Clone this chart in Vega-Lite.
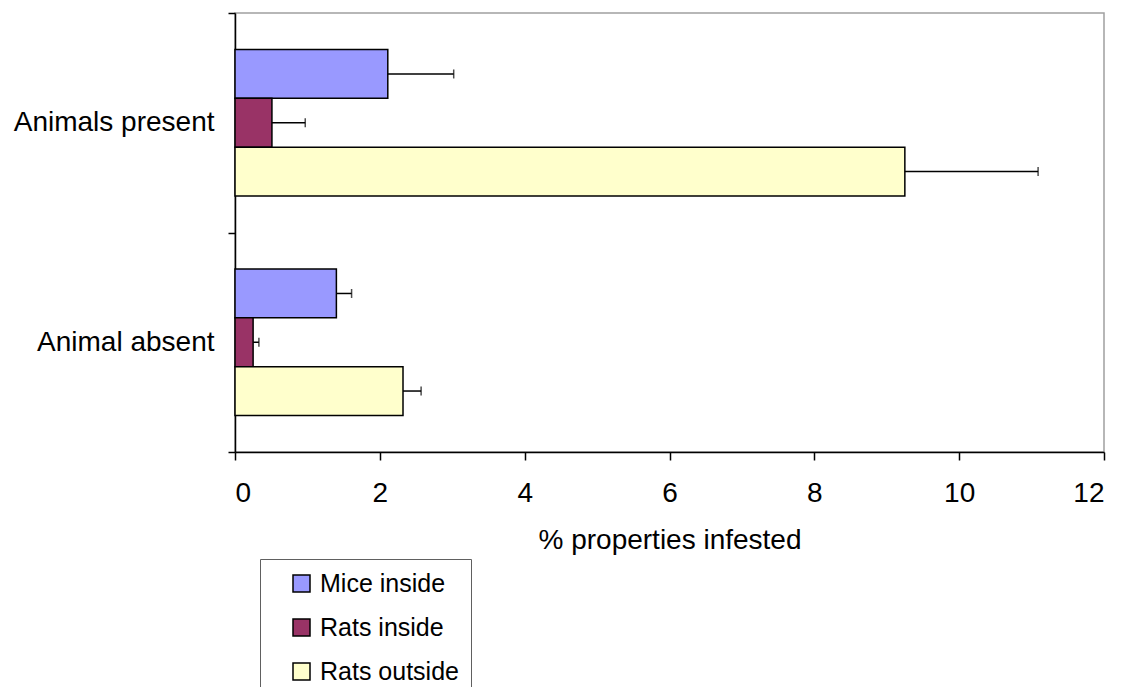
{
  "$schema": "https://vega.github.io/schema/vega-lite/v6.json",
  "width": 869,
  "height": 439,
  "autosize": {"type": "none"},
  "padding": {"left": 235, "top": 13, "right": 24, "bottom": 235},
  "background": "white",
  "config": {
    "view": {"stroke": "#a0a0a0", "strokeWidth": 1.5},
    "font": "Liberation Sans",
    "axis": {
      "domainColor": "black",
      "domainWidth": 1.5,
      "tickColor": "black",
      "tickWidth": 1.5,
      "labelColor": "black",
      "titleColor": "black",
      "grid": false,
      "labelFont": "Liberation Sans",
      "titleFont": "Liberation Sans"
    },
    "legend": {"labelFont": "Liberation Sans"}
  },
  "data": {
    "values": [
      {"group": "Animals present", "series": "Mice inside", "value": 2.11, "upper": 3.02},
      {"group": "Animals present", "series": "Rats inside", "value": 0.51, "upper": 0.97},
      {"group": "Animals present", "series": "Rats outside", "value": 9.25, "upper": 11.09},
      {"group": "Animal absent", "series": "Mice inside", "value": 1.40, "upper": 1.61},
      {"group": "Animal absent", "series": "Rats inside", "value": 0.25, "upper": 0.33},
      {"group": "Animal absent", "series": "Rats outside", "value": 2.32, "upper": 2.57}
    ]
  },
  "encoding": {
    "y": {
      "field": "group",
      "type": "nominal",
      "sort": ["Animals present", "Animal absent"],
      "scale": {"paddingInner": 0, "paddingOuter": 0},
      "axis": {
        "title": null,
        "tickBand": "extent",
        "labelFontSize": 28,
        "tickSize": 7,
        "labelPadding": 14,
        "labelLimit": 400
      }
    },
    "yOffset": {
      "field": "series",
      "type": "nominal",
      "sort": ["Mice inside", "Rats inside", "Rats outside"],
      "scale": {"paddingInner": 0, "paddingOuter": 0.75}
    }
  },
  "layer": [
    {
      "mark": {"type": "bar", "stroke": "black", "strokeWidth": 1.5},
      "encoding": {
        "x": {
          "field": "value",
          "type": "quantitative",
          "scale": {"domain": [0, 12], "nice": false},
          "axis": {
            "values": [0, 2, 4, 6, 8, 10, 12],
            "format": "d",
            "title": "% properties infested",
            "labelFontSize": 28,
            "titleFontSize": 28,
            "titleFontWeight": "normal",
            "tickSize": 8,
            "labelPadding": 19,
            "titlePadding": 19
          }
        },
        "color": {
          "field": "series",
          "type": "nominal",
          "scale": {
            "domain": ["Mice inside", "Rats inside", "Rats outside"],
            "range": ["#9999FF", "#993366", "#FFFFCC"]
          },
          "legend": {
            "title": null,
            "orient": "none",
            "legendX": 25,
            "legendY": 546,
            "strokeColor": "#606060",
            "padding": 12,
            "symbolType": "square",
            "symbolSize": 289,
            "symbolStrokeColor": "black",
            "symbolStrokeWidth": 1.5,
            "symbolOffset": 17,
            "labelFontSize": 25,
            "labelColor": "black",
            "labelOffset": 6,
            "rowPadding": 18,
            "labelLimit": 400
          }
        }
      }
    },
    {
      "mark": {"type": "rule", "color": "black", "strokeWidth": 1.5},
      "encoding": {
        "x": {"field": "value", "type": "quantitative"},
        "x2": {"field": "upper"}
      }
    },
    {
      "mark": {"type": "tick", "color": "black", "thickness": 1.5, "size": 9},
      "encoding": {
        "x": {"field": "upper", "type": "quantitative"}
      }
    }
  ]
}
